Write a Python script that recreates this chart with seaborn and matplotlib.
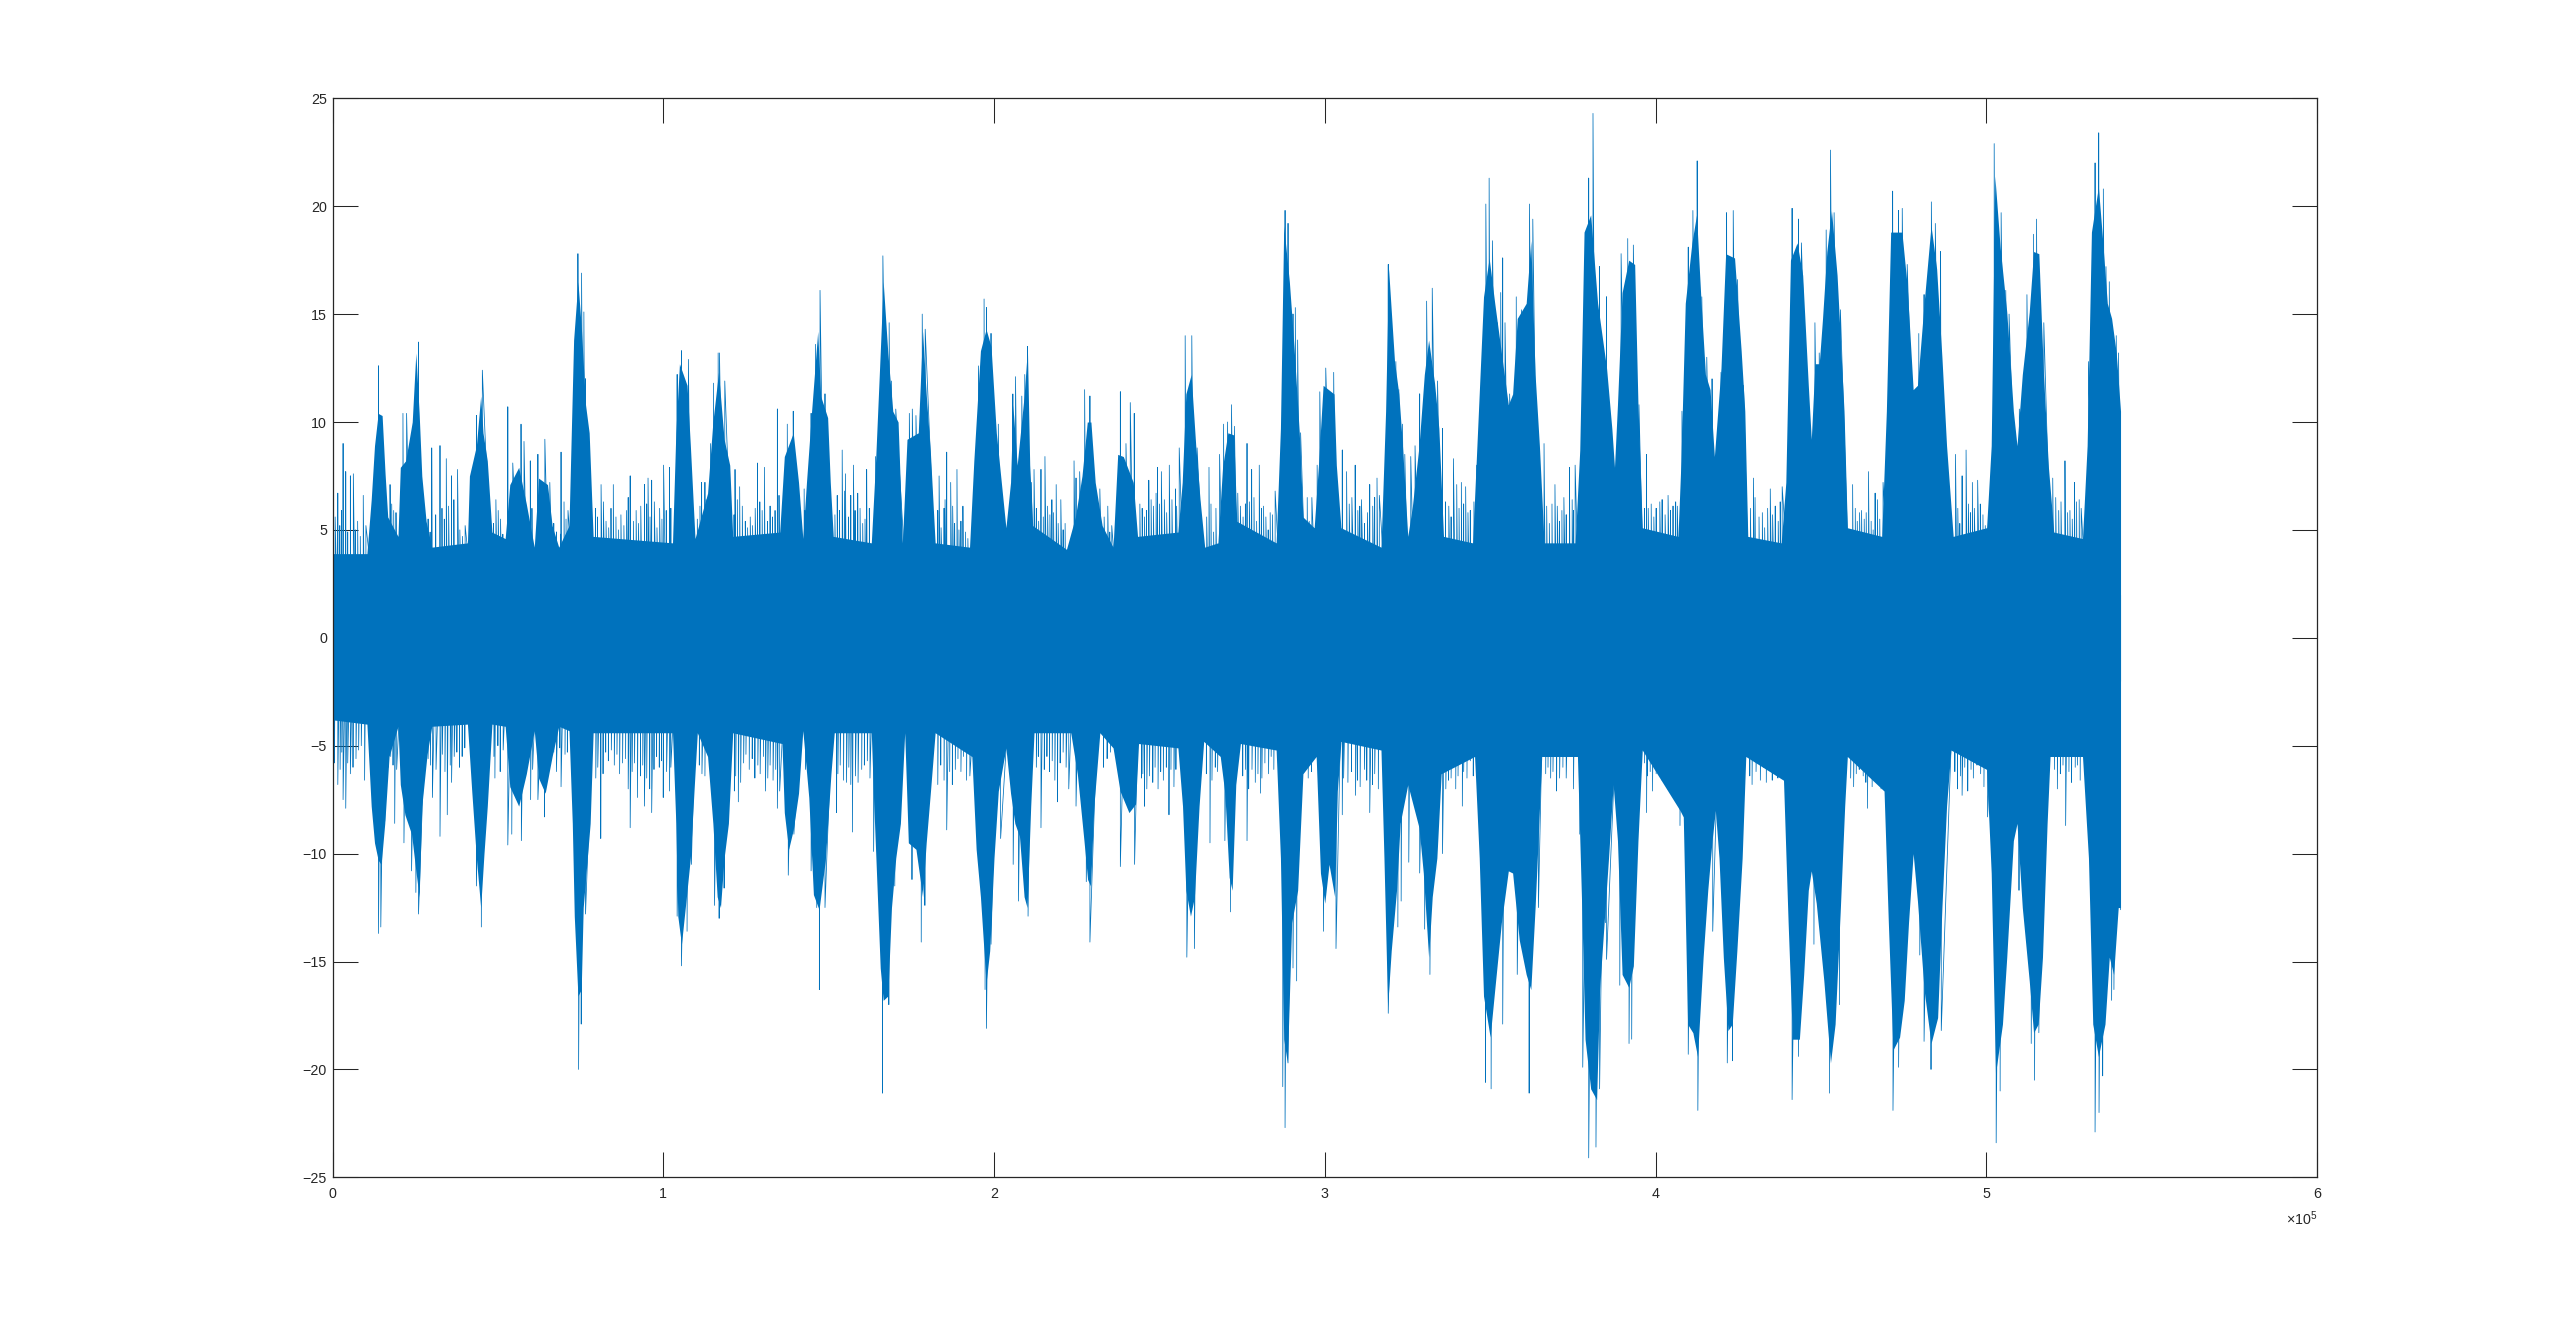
import numpy as np
import pandas as pd
import matplotlib
matplotlib.use("Agg")
import matplotlib.pyplot as plt
import seaborn as sns

# sample index in thousands, amplitude
body_up_x = [0,10.4,11.7,12.7,13.8,15,15.9,16.7,19.8,20.5,22.1,24.1,25.2,26.2,27,28.3,30,40.8,41.4,43.5,44.8,45.5,46.8,48.2,52.2,53.6,56.3,58.6,61,62.3,65,66.4,68.4,71.5,72.9,74.2,75.3,76.5,77.6,78.8,102.8,103.8,104.9,107.2,108.2,109.6,113.4,115,116.7,118.4,120.1,121,135.2,136.6,139.3,140.9,142.2,143.3,144.7,146.7,147.6,149.7,150.5,151.4,162.9,164.2,165.6,166.5,167.9,169.4,171,172.3,173.7,177.1,178.4,179.5,180.8,182.2,192.6,193.9,195.9,197.6,199.1,200.7,203.6,205,205.7,207,209.1,210.1,210.8,211.7,221.9,224.6,226.6,228.2,229.3,230.6,232.7,236,237.4,239.1,242.1,243.4,255.6,256.9,258,259.6,261,262.3,263.7,267.7,269.1,270.7,272.5,273.4,285.3,286.6,287.6,289.3,290.7,292.3,293.4,296.8,298.1,299.5,302.8,303.5,304.9,317,318.4,319.3,321.1,322.4,323.5,325.1,326.5,328.5,330.1,331.4,333.2,334.5,335.9,344.7,346.7,348,349.7,351.4,355.5,356.8,358.2,360.9,362.3,363.6,364.9,366.3,375.7,377.1,378.4,380.4,382.5,385.2,386.8,387.6,388.5,389.9,391.9,393.7,394.7,396,406.8,407.7,409,411,412.4,413.8,415.1,416.5,417.8,419.8,421.2,423.9,425.9,427,427.9,438,439.4,440.8,442.8,444.5,446.2,447.1,448.2,449.5,450.5,451.8,453.2,454.9,457,458,468.4,469.8,471.1,474.5,476.1,477.9,479.2,481.2,483.3,485,486.6,488,490,500.1,501.5,502.6,504.2,506.2,508.2,509.3,510.9,513,514.3,515.9,517.3,518.8,520.4,529.1,530.5,531.8,533.9,535.2,536.6,537.9,539.3,540.6]
body_up = [3.9,3.9,6.4,8.9,10.4,10.3,7.6,5.6,4.7,7.9,8.2,10,13.2,10.4,7.5,5.4,4.2,4.4,7.5,8.9,11.2,9.5,8.2,4.9,4.6,7.1,7.9,6.2,4.2,7.4,7.1,5.2,4.2,5.2,13.8,16.5,14.2,10.8,9.5,4.7,4.4,9.5,12.7,11.7,8.9,4.6,6.7,10,12.3,9.2,8,4.7,4.9,8.4,9.5,7.2,4.6,7.2,10.2,14.2,11.2,10.2,7.2,4.7,4.4,8.2,13.2,16.5,13.2,10.5,10,4.4,9.2,9.5,14.2,11.3,8.5,4.4,4.2,8.2,13.3,14.3,13.5,9.5,5.1,7.2,10.8,8,11.2,13.4,8,5.2,4.1,5.6,7.5,10,10,7.2,5.2,4.2,8.5,8.4,7.2,4.7,4.9,7.2,11.3,12.2,8.9,6.4,4.2,4.4,7.9,9.5,9.4,5.4,4.4,9.7,19.1,16.5,13.5,9.5,5.6,5.1,8,11.7,11.3,8,5.1,4.2,10.5,17.1,12.8,11.3,8.9,4.7,6.1,8.9,12.2,13.8,11.8,9.7,4.7,4.4,11.3,15.8,17.6,15.5,10.8,11.3,14.8,15.5,18.4,12.2,8.9,4.4,4.4,8.7,18.8,19.6,15.5,12.5,9.7,7.9,10.8,16,17.5,17.3,10.8,5.1,4.7,8.2,15.5,18.3,19.6,15.5,12.2,11.5,8.4,12.5,17.8,17.6,13.3,10.5,4.7,4.4,7.2,17.5,18.3,16.8,11.7,9.2,12.7,12.7,14.8,17.9,19.8,16.8,10.5,5.1,4.7,10.5,18.8,18.8,16.3,11.5,11.7,15.5,19.1,17.1,13,8.9,4.7,5.1,8.9,21.4,18.1,15.1,10.5,8.9,12.2,15.1,17.9,17.8,12.2,7.9,4.9,4.6,8.9,18.8,20.9,18.4,15.5,14.8,13.2,10.5]

body_lo_x = [0,10.4,11.7,12.7,13.8,14.7,15.8,17.1,19.8,20.5,21.9,23.9,25.2,26.2,27,28.6,30,40.8,42.1,43.5,44.8,45.8,46.8,48.2,52.2,53.6,56.3,58.6,61,62.3,64.3,66.4,68.4,71.5,72.5,73.1,74.2,75.2,75.8,77.9,78.8,102.8,103.8,104.4,105.5,106.8,108.2,109.3,110.3,113.4,115,116.3,117.3,118.4,119.7,121,135.9,136.6,137.9,139.3,140.9,142.2,144,145.4,147.1,149,150.7,151.7,162.9,163.6,165.6,166.5,167.9,169,170.3,171.7,173,174.1,176.4,178.4,179.5,180.8,182.2,193.3,194.6,195.9,197.6,198.7,200,201.3,203.6,205,206.3,207.7,209.1,210,211.1,212.1,223.2,225.2,227.2,228.3,229.2,230.2,232,236,238.1,240.8,242.8,243.7,255.6,257,258,259.4,260.6,262,263.4,268.4,269.8,271.1,272,273.1,274.5,285.3,286.6,287.6,288.7,290,291.8,293.4,297.4,298.7,300,301.3,303,303.8,304.9,317,317.9,319,320.1,321.7,322.8,325.1,328.5,329.8,331.4,332.5,333.9,335.2,345.3,346.7,348,350,351.4,353.4,355.5,356.8,358.8,360.9,362.3,363.6,364.5,365.6,376.4,377.7,378.7,380.4,382.2,383.1,385.8,387.2,388.5,389.9,391.9,393.3,394.7,396,407.4,408.4,409.7,411.3,412.7,414.4,415.8,417.1,418.1,419.2,420.5,421.9,423.2,424.6,426.2,427.3,438.7,440.1,441.4,443.5,444.8,446.2,447.1,448.6,450.9,452.9,454.3,455.9,457.2,458,469.1,470.4,471.8,473.8,475.2,476.5,477.9,479.2,481.2,483.3,485.3,486.6,488,489.3,500.1,501.5,502.8,504.9,506.2,508.2,509.3,510.9,513,514.3,515.7,517,518.4,519.3,529.1,530.9,532.2,533.9,535.9,537.2,538.5,539.9,540.6]
body_lo = [-3.8,-4,-7.8,-9.5,-10.3,-10.5,-8.6,-5.5,-4.1,-6.8,-8.2,-9.1,-10.8,-12,-7.8,-5.4,-4.1,-4,-7.1,-10.2,-12.5,-10,-7.8,-4,-4.1,-6.9,-7.8,-6.3,-4.3,-6.5,-7.2,-5.5,-4.1,-4.3,-8.6,-12.9,-16.6,-16.3,-12.5,-8.6,-4.4,-4.4,-8.6,-12.9,-14.2,-12.3,-10.2,-7.1,-4.4,-5.5,-8.6,-12,-12.5,-10.2,-8.6,-4.4,-4.9,-8.1,-9.8,-8.9,-7.2,-4.3,-7.4,-11.9,-12.6,-10.3,-6.3,-4.4,-4.4,-7.5,-15.3,-16.8,-16.6,-12.5,-10.2,-8.6,-4.4,-9.5,-9.8,-12,-9.5,-7.1,-4.4,-5.5,-9.8,-12,-16,-14.5,-10.2,-7.1,-5.1,-7.2,-8.6,-9.2,-12,-12.5,-7.8,-4.4,-4.4,-6.3,-9.4,-11.2,-11.5,-7.8,-4.4,-5.1,-7.1,-8.1,-7.7,-4.9,-5.1,-7.8,-11.7,-12.9,-12,-7.8,-4.8,-5.5,-7.2,-11.1,-11.7,-6.8,-4.9,-5.2,-10.2,-18.6,-19.7,-13.2,-11.7,-6.3,-5.5,-10.9,-12.3,-10.5,-12,-7.1,-4.8,-5.2,-10.2,-17.1,-14.5,-11.7,-8.6,-6.8,-8.8,-10.9,-14.8,-12,-10.2,-6.3,-5.5,-10.2,-16.6,-18.5,-16.3,-13.2,-10.8,-10.9,-14,-15.6,-16.3,-12.5,-9.4,-5.5,-5.5,-12.5,-18.6,-20.9,-21.4,-16.3,-10.2,-6.8,-9.4,-15.6,-16.2,-15.2,-9.4,-5.2,-8,-8.3,-17.9,-18.3,-19.4,-14.8,-11.7,-9.4,-8,-10.2,-14.8,-18.2,-17.9,-14.5,-10.2,-5.5,-6.6,-13.2,-18.6,-18.6,-15.6,-11.7,-10.8,-12.3,-15.9,-19.7,-17.9,-12.5,-7.8,-5.5,-7.1,-13.2,-19.1,-18.5,-16.8,-13.2,-10,-12.2,-16.3,-18.8,-17.6,-12.5,-7.8,-5.2,-6.1,-10.9,-20.2,-17.9,-14.8,-9.4,-8.6,-12.5,-15.9,-18.3,-17.9,-14.8,-8.6,-5.5,-5.5,-10.2,-17.9,-19.4,-17.9,-14.8,-15.6,-12.5,-12.5]

peak_up_x = [0,1.6,3.2,4.0,5.4,6.3,9.3,13.9,17.4,21.3,22.4,26.0,30.0,32.5,34.4,36.0,37.8,43.5,45.3,49.4,53.0,54.5,57.0,57.9,59.8,62.1,64.2,65.7,69.1,70.0,74.2,75.3,76.0,76.5,81.2,84.9,90.0,94.3,95.4,96.5,100.1,101.9,104.2,105.5,107.6,111.6,112.6,114.3,115.2,116.6,117.0,118.6,121.7,123.1,128.5,130.6,134.5,137.5,139.3,142.6,144.7,146.0,147.4,148.9,154.1,155.1,157.5,158.8,161.5,164.2,166.4,168.3,169.0,170.3,174.4,175.3,176.4,178.3,179.2,183.4,185.7,186.9,188.8,190.6,195.3,197.0,197.7,199.1,201.3,205.7,206.5,208.4,209.3,210.1,211.3,212.1,214.2,215.4,217.5,218.8,220.2,224.2,224.8,225.9,227.4,229.0,232.0,234.4,238.2,239.9,241.2,242.4,244.1,246.8,249.4,250.6,253.0,254.9,256.0,257.8,259.8,261.4,265.0,267.1,268.2,269.4,270.6,271.8,272.7,273.7,276.5,277.9,280.2,281.5,283.5,285.0,288.0,288.9,290.4,291.1,291.8,292.7,294.7,296.1,297.7,298.5,300.3,302.7,305.3,306.6,309.2,311.1,313.6,315.8,319.2,321.5,322.4,323.5,324.2,326.0,327.3,328.7,330.8,332.5,334.1,335.6,338.9,339.9,341.3,342.6,345.9,348.7,349.7,350.7,352.2,353.2,353.8,354.5,355.9,357.9,359.5,361.9,362.9,366.3,369.6,372.3,374.0,375.7,379.8,381.1,383.1,385.2,389.6,391.6,393.3,395.0,397.3,401.3,403.8,406.1,408.0,409.9,411.3,412.6,414.0,415.5,417.1,419.8,421.5,423.5,424.8,426.6,429.6,431.3,434.7,438.3,441.3,443.2,444.1,448.2,449.5,451.6,452.9,454.0,455.9,459.6,462.3,464.4,466.4,468.8,471.7,473.5,474.6,476.1,479.6,481.2,483.4,484.6,486.2,490.7,492.7,493.9,495.8,497.4,502.4,504.5,505.9,506.9,510.0,512.3,514.3,515.2,517.4,520.1,523.8,526.7,528.1,530.9,532.9,534.0,535.4,536.2,537.2,539.3,540.0]
peak_up = [6.1,6.7,9.0,7.7,7.5,7.6,6.6,12.6,7.1,10.4,10.4,13.7,8.8,8.9,8.3,7.5,7.8,10.3,12.4,6.4,10.7,8.1,9.9,9.1,8.2,8.5,9.2,7.2,8.6,6.3,17.8,16.9,15.1,12.0,7.1,7.1,7.5,7.1,7.4,7.3,8.0,7.9,12.2,13.3,12.9,7.2,7.2,9.0,11.8,13.2,13.2,11.9,7.8,7.0,8.1,7.9,10.6,9.9,10.5,6.9,10.4,13.6,16.1,11.3,8.7,7.6,8.0,6.7,7.8,8.4,17.7,14.6,11.9,10.6,10.4,10.6,10.3,15.0,14.3,7.5,8.6,7.2,7.8,6.1,12.6,15.7,15.3,14.1,9.9,11.3,12.1,11.2,12.2,13.5,7.2,7.8,7.8,8.4,6.4,7.1,6.4,8.2,7.4,7.7,11.5,11.2,6.9,6.1,11.4,9.0,10.9,10.4,6.2,7.3,7.9,7.7,8.0,6.9,8.8,14.0,14.0,8.8,7.9,6.0,8.5,9.9,10.0,10.8,9.8,6.7,9.0,7.8,8.0,6.1,5.8,6.8,19.8,19.2,15.0,15.3,13.8,9.5,6.5,6.5,8.0,11.4,12.5,12.3,8.7,7.7,8.0,6.4,7.1,7.4,17.3,12.8,11.5,9.9,8.5,8.4,8.9,11.3,15.6,16.2,11.9,9.7,8.3,7.1,7.2,7.0,8.0,20.1,21.3,18.4,14.6,16.0,17.6,14.6,11.3,15.8,15.2,20.1,19.4,9.0,7.1,6.5,7.9,8.0,21.3,24.3,17.2,15.8,17.8,18.5,18.2,10.8,8.5,6.3,6.6,6.3,10.5,18.1,19.8,22.1,15.8,13.0,12.0,12.3,19.7,19.8,16.6,11.7,7.4,5.6,6.9,7.0,19.9,19.4,18.3,14.6,13.2,18.9,22.6,19.7,15.2,7.1,5.9,7.7,6.7,7.2,20.7,19.8,19.9,17.3,14.1,15.9,20.2,19.2,17.9,8.5,7.5,8.7,7.2,7.3,22.9,19.7,16.1,15.0,10.6,15.9,18.7,19.4,14.6,7.4,8.2,7.2,6.4,12.8,22.0,23.4,20.8,17.2,16.5,14.0,13.2]

peak_lo_x = [0,1.6,3.2,4.0,5.4,9.7,13.9,14.6,15.8,18.8,21.6,23.9,25.2,26.0,30.2,32.5,34.7,36.0,43.5,45.0,49.1,53.0,54.2,57.1,59.9,62.1,64.1,69.1,74.4,75.2,76.5,81.1,90.0,94.3,96.5,100.0,101.9,104.2,105.5,107.2,108.5,115.5,116.9,118.4,121.5,122.7,130.9,134.5,137.8,139.5,144.7,146.4,147.2,148.9,152.4,157.2,163.6,166.3,168.2,170.0,175.2,178.0,179.1,185.7,197.3,197.7,199.1,202.0,205.8,207.4,210.3,214.2,219.2,224.8,227.9,229.0,238.2,242.5,245.5,252.9,258.3,260.6,265.3,269.8,271.5,276.5,280.6,287.3,288.0,288.9,290.4,291.5,299.6,303.4,305.3,309.3,313.6,319.2,322.1,323.1,325.4,328.7,330.2,331.8,335.6,341.6,348.6,350.3,353.8,358.2,361.8,364.6,377.1,378.0,379.8,382.0,383.1,384.9,385.2,389.2,392.0,392.8,397.3,407.4,409.9,412.8,417.3,421.7,423.3,441.3,443.2,447.9,452.6,455.6,464.1,471.8,473.5,479.9,481.2,483.3,486.4,492.7,500.4,503.0,504.2,509.9,513.6,514.6,515.9,524.0,532.9,534.1,535.2,537.9,538.6,540.6]
peak_lo = [-6.9,-6.8,-7.5,-7.9,-6.3,-6.6,-13.7,-13.4,-8.5,-8.6,-9.5,-10.8,-11.8,-12.8,-7.4,-9.2,-8.2,-6.7,-11.5,-13.4,-6.5,-9.6,-9.1,-9.4,-7.5,-7.5,-8.3,-6.9,-20.0,-17.9,-12.8,-9.3,-8.8,-7.8,-8.1,-7.4,-7.1,-12.9,-15.2,-13.6,-10.5,-12.4,-13.0,-11.6,-7.1,-7.6,-7.1,-7.9,-11.0,-9.1,-10.8,-12.5,-16.3,-12.5,-8.1,-9.0,-9.9,-21.1,-17.0,-11.5,-11.2,-14.1,-12.4,-8.9,-16.3,-18.1,-14.2,-9.3,-10.5,-12.2,-12.9,-8.8,-7.6,-7.8,-11.3,-14.1,-10.6,-10.5,-7.8,-8.2,-14.8,-14.4,-9.5,-9.4,-12.7,-9.4,-7.2,-20.8,-22.7,-19.7,-15.3,-15.9,-13.6,-14.4,-8.2,-7.3,-8.1,-17.4,-13.4,-12.2,-10.4,-10.9,-13.5,-15.6,-10.0,-7.8,-20.6,-20.9,-17.9,-15.6,-21.1,-12.5,-9.1,-19.9,-24.1,-23.6,-20.9,-13.2,-14.9,-16.1,-18.8,-18.6,-8.1,-8.7,-19.3,-21.9,-13.6,-19.7,-19.6,-21.4,-19.4,-14.2,-21.1,-17.0,-7.9,-21.9,-19.9,-14.7,-18.7,-20.0,-18.2,-7.3,-8.3,-23.4,-21.0,-11.7,-18.8,-20.5,-18.3,-8.7,-22.9,-22.0,-20.3,-16.8,-16.3,-12.6]

# short strokes of the quiet stretches between bursts, estimated by eye
grass_up = [(0.8,5.6),(2.2,5.2),(2.7,5.9),(4.6,4.9),(6.9,5.0),(7.6,5.4),(8.4,4.7),(10.1,5.2),(17.9,6.2),(18.5,5.9),(19.2,5.8),(28.9,5.5),(29.5,4.9),(31.2,5.7),(33.1,6.0),(33.8,5.5),(35.1,6.1),(36.7,6.4),(38.5,5.0),(39.3,4.7),(40.1,5.2),(48.7,5.3),(50.1,5.9),(50.8,5.5),(51.5,4.8),(59.2,5.4),(60.3,6.0),(66.9,5.3),(67.7,4.9),(68.9,4.8),(70.6,5.5),(71.2,5.9),(79.5,6.0),(80.1,5.6),(81.9,6.3),(82.7,5.4),(83.5,5.1),(84.2,6.0),(85.7,5.6),(86.5,5.0),(87.2,5.7),(88.1,5.2),(88.9,5.9),(89.4,6.5),(91.0,5.4),(91.8,5.9),(92.5,5.3),(93.2,6.1),(95.0,6.2),(96.0,5.6),(97.3,6.3),(98.1,5.1),(98.9,6.0),(99.6,5.5),(100.9,5.9),(102.3,6.0),(110.3,5.5),(111.1,6.1),(113.0,6.4),(121.4,5.7),(122.4,6.4),(123.9,6.1),(124.8,5.4),(125.5,5.1),(126.3,5.6),(127.0,5.2),(127.8,6.0),(129.2,6.3),(129.9,5.9),(131.5,5.4),(132.3,6.1),(133.0,5.6),(133.8,5.9),(135.0,6.6),(142.9,5.9),(151.9,5.7),(152.6,6.6),(153.3,5.9),(154.8,6.8),(156.0,5.6),(156.7,6.6),(158.0,5.9),(159.5,6.0),(160.3,5.3),(161.0,5.5),(162.3,6.0),(183.0,5.9),(184.0,5.1),(184.9,6.0),(185.2,6.4),(187.5,6.1),(188.1,5.3),(189.4,5.0),(190.0,5.4),(191.4,4.9),(192.1,4.6),(212.8,6.0),(213.5,5.4),(214.9,5.6),(216.2,6.1),(216.9,5.7),(218.0,5.8),(219.4,5.3),(220.9,5.0),(221.5,5.3),(233.3,5.6),(235.0,4.9),(235.6,5.2),(244.8,6.0),(245.5,5.6),(246.1,5.9),(247.5,6.4),(248.2,6.1),(249.0,6.7),(250.0,6.2),(251.5,6.4),(252.2,5.8),(253.8,6.4),(255.2,6.1),(264.3,5.6),(265.6,6.2),(266.4,4.9),(274.5,6.1),(275.3,5.6),(276.0,6.2),(277.2,6.3),(278.6,6.5),(279.4,5.4),(280.9,6.0),(282.2,5.6),(282.9,5.0),(284.2,5.7),(295.3,5.4),(307.4,6.2),(308.2,6.5),(310.0,5.9),(310.6,6.1),(312.0,5.3),(312.9,5.8),(314.5,6.1),(315.1,6.5),(316.5,6.6),(336.5,6.3),(337.5,6.1),(338.2,5.6),(340.6,6.0),(342.0,6.2),(343.3,5.8),(344.0,5.9),(345.1,6.3),(367.1,6.1),(367.9,5.3),(368.7,6.2),(370.3,6.1),(371.0,5.4),(371.7,5.9),(373.0,5.7),(374.8,6.4),(375.2,5.9),(396.7,6.0),(397.8,6.0),(398.7,6.2),(399.5,5.6),(400.2,6.0),(402.0,6.4),(402.9,5.7),(404.5,5.9),(405.3,6.1),(406.6,6.1),(428.7,6.0),(430.1,6.5),(432.3,5.8),(433.0,5.1),(433.9,6.0),(435.4,5.7),(436.2,6.1),(437.1,5.4),(437.7,6.3),(460.4,6.0),(461.0,5.4),(461.7,5.8),(463.1,5.5),(463.7,5.8),(465.2,5.4),(465.8,5.0),(467.1,6.4),(467.8,5.5),(491.4,6.0),(492.0,5.3),(494.6,6.2),(495.2,5.8),(496.4,6.0),(498.2,6.2),(499.0,5.7),(499.7,5.2),(521.0,6.5),(521.9,5.9),(522.6,6.3),(524.6,5.8),(525.3,5.9),(526.0,5.5),(527.3,6.3),(528.7,6.0)]
grass_lo = [(0.6,-5.8),(2.3,-6.1),(2.8,-5.3),(4.6,-5.8),(6.2,-6.0),(7.1,-5.6),(7.9,-5.2),(8.7,-5.0),(16.9,-6.0),(17.6,-5.5),(18.3,-5.9),(19.4,-6.1),(28.9,-5.6),(29.6,-5.9),(31.3,-6.1),(33.2,-5.4),(34.0,-6.2),(35.6,-5.9),(36.8,-5.5),(37.6,-5.3),(38.4,-6.0),(39.2,-5.5),(40.0,-5.1),(48.8,-5.5),(50.0,-5.0),(50.7,-6.2),(51.6,-5.2),(59.0,-5.6),(60.5,-6.1),(66.9,-5.3),(67.7,-6.2),(68.7,-5.1),(70.3,-5.4),(71.0,-5.3),(79.6,-6.5),(80.2,-6.0),(81.8,-6.3),(82.6,-5.3),(83.4,-5.7),(84.3,-5.2),(85.2,-5.9),(86.0,-5.4),(86.8,-6.3),(87.7,-5.8),(88.6,-5.6),(89.4,-7.0),(90.6,-6.2),(91.3,-5.8),(92.2,-7.4),(93.1,-6.4),(93.8,-5.9),(95.0,-6.5),(95.9,-7.0),(97.2,-6.1),(98.0,-5.5),(98.8,-6.0),(99.5,-5.7),(101.0,-6.2),(102.3,-6.0),(110.9,-5.9),(111.7,-6.3),(112.6,-6.4),(121.9,-6.4),(123.4,-6.7),(124.3,-5.8),(125.0,-5.4),(126.0,-6.1),(126.9,-5.6),(127.7,-6.5),(128.6,-5.9),(129.3,-6.3),(130.3,-5.5),(131.6,-6.5),(132.3,-5.9),(133.2,-6.6),(134.0,-6.1),(135.2,-7.1),(143.0,-6.1),(152.8,-6.3),(153.5,-5.9),(154.5,-6.6),(155.4,-6.7),(156.1,-6.0),(156.7,-6.8),(158.1,-6.4),(158.9,-6.7),(160.0,-6.1),(160.8,-5.9),(161.7,-5.7),(162.5,-6.5),(183.0,-6.8),(183.9,-5.9),(184.9,-6.6),(186.6,-6.2),(187.4,-6.8),(188.3,-6.1),(189.1,-5.6),(190.0,-6.2),(190.8,-5.5),(191.7,-6.6),(192.7,-6.4),(212.8,-6.0),(213.4,-5.5),(215.2,-6.1),(216.0,-5.5),(216.8,-6.2),(217.6,-5.7),(218.4,-6.6),(220.0,-5.8),(220.9,-5.3),(221.8,-6.0),(222.6,-7.0),(233.1,-6.0),(234.2,-5.6),(235.2,-5.3),(244.6,-6.5),(245.0,-6.3),(246.2,-7.0),(247.0,-6.4),(248.0,-6.7),(248.7,-6.0),(249.6,-7.0),(250.4,-6.2),(251.2,-6.6),(252.1,-6.0),(253.5,-6.1),(254.4,-6.9),(255.0,-6.1),(264.2,-6.3),(265.9,-6.6),(266.9,-6.0),(267.6,-6.2),(275.2,-6.4),(276.0,-6.1),(277.0,-7.0),(278.0,-6.1),(279.0,-6.7),(279.8,-6.3),(281.0,-6.5),(281.9,-5.8),(283.0,-6.3),(283.8,-5.5),(284.6,-6.1),(295.0,-6.5),(296.0,-6.2),(305.7,-6.5),(307.0,-6.7),(308.1,-6.2),(309.9,-6.6),(310.7,-6.9),(312.0,-6.1),(312.7,-6.6),(314.4,-6.8),(315.1,-6.3),(316.2,-7.0),(336.6,-7.0),(337.4,-6.6),(338.2,-6.5),(339.6,-7.0),(340.3,-6.4),(341.0,-5.8),(342.0,-6.2),(343.0,-6.5),(344.0,-5.7),(344.9,-6.4),(366.8,-6.3),(367.5,-6.0),(368.3,-6.5),(369.0,-6.2),(370.1,-7.1),(371.0,-6.5),(372.0,-6.0),(373.0,-6.5),(374.2,-5.5),(375.2,-7.0),(396.7,-5.8),(397.6,-6.4),(398.4,-6.2),(399.1,-7.1),(400.2,-6.3),(401.1,-6.0),(402.0,-6.6),(402.7,-6.1),(403.7,-7.0),(404.6,-6.2),(405.3,-6.5),(406.2,-6.0),(428.5,-6.4),(429.2,-6.8),(430.4,-6.2),(431.7,-6.6),(432.7,-6.0),(433.5,-6.7),(434.4,-5.9),(435.3,-6.6),(436.2,-6.2),(437.0,-6.5),(437.9,-6.1),(459.0,-6.5),(459.9,-6.9),(460.7,-6.3),(461.6,-6.1),(462.8,-6.4),(463.6,-6.7),(464.8,-6.2),(465.5,-6.9),(466.4,-6.3),(467.4,-6.7),(468.2,-7.0),(490.5,-6.2),(491.3,-7.0),(492.2,-6.4),(493.5,-6.0),(494.4,-7.1),(495.4,-6.1),(496.1,-6.5),(497.2,-5.9),(498.3,-6.3),(499.3,-6.9),(520.6,-6.1),(521.5,-7.0),(522.4,-6.3),(523.2,-5.9),(525.0,-6.2),(525.8,-6.7),(526.9,-6.0),(527.6,-5.9),(528.4,-6.6)]

x_tick_labels = ["0", "1", "2", "3", "4", "5", "6"]
y_tick_values = [-25, -20, -15, -10, -5, 0, 5, 10, 15, 20, 25]

BLUE = "#0072BD"
INK = "#262626"

sns.set_theme(style="white")
plt.rcParams["font.family"] = ["Liberation Sans", "DejaVu Sans"]
plt.rcParams["mathtext.fontset"] = "custom"
plt.rcParams["mathtext.rm"] = "Liberation Sans"
plt.rcParams["mathtext.default"] = "regular"

fig = plt.figure(figsize=(25.6, 13.23), dpi=100, facecolor="white")
ax = fig.add_axes([332.5 / 2560, 1 - 1177.3 / 1323, (2317 - 332.5) / 2560, (1177.3 - 98.3) / 1323])

unit = 1000.0
up_x = np.array(body_up_x) * unit
lo_x = np.array(body_lo_x) * unit
ax.fill_between(up_x, -2, body_up, color=BLUE, linewidth=0)
ax.fill_between(lo_x, body_lo, 2, color=BLUE, linewidth=0)

# every stroke runs from the solid band to its tip, all in one series in time order
gx_up, gy_up = zip(*grass_up)
gx_lo, gy_lo = zip(*grass_lo)
px = np.array(peak_up_x + peak_lo_x + list(gx_up) + list(gx_lo)) * unit
py = np.array(peak_up + peak_lo + list(gy_up) + list(gy_lo), dtype=float)
order = np.argsort(px, kind="stable")
px, py = px[order], py[order]
trace = pd.DataFrame({
    "sample": np.column_stack([px, px]).ravel(),
    "amplitude": np.column_stack([np.zeros_like(py), py]).ravel(),
})
sns.lineplot(data=trace, x="sample", y="amplitude", sort=False, estimator=None,
             errorbar=None, color=BLUE, linewidth=0.55, ax=ax)

ax.set_xlim(0, 6e5)
ax.set_ylim(-25, 25)
ax.set_xlabel("")
ax.set_ylabel("")
ax.set_xticks(np.arange(len(x_tick_labels)) * 1e5)
ax.set_xticklabels(x_tick_labels)
ax.set_yticks(y_tick_values)
ax.tick_params(axis="both", which="major", direction="in", length=18, width=0.75,
               color=INK, labelcolor=INK, labelsize=10.3, top=True, right=True,
               bottom=True, left=True)
ax.tick_params(axis="x", pad=7)
ax.tick_params(axis="y", pad=4)
for s in ax.spines.values():
    s.set_visible(True)
    s.set_color(INK)
    s.set_linewidth(0.9)
    s.set_zorder(5)

ax.text(1.0, -0.0295, r"$\times10^{5}$", transform=ax.transAxes, ha="right", va="top",
        fontsize=10.3, color=INK)

fig.savefig("out.png", dpi=100, facecolor="white")
